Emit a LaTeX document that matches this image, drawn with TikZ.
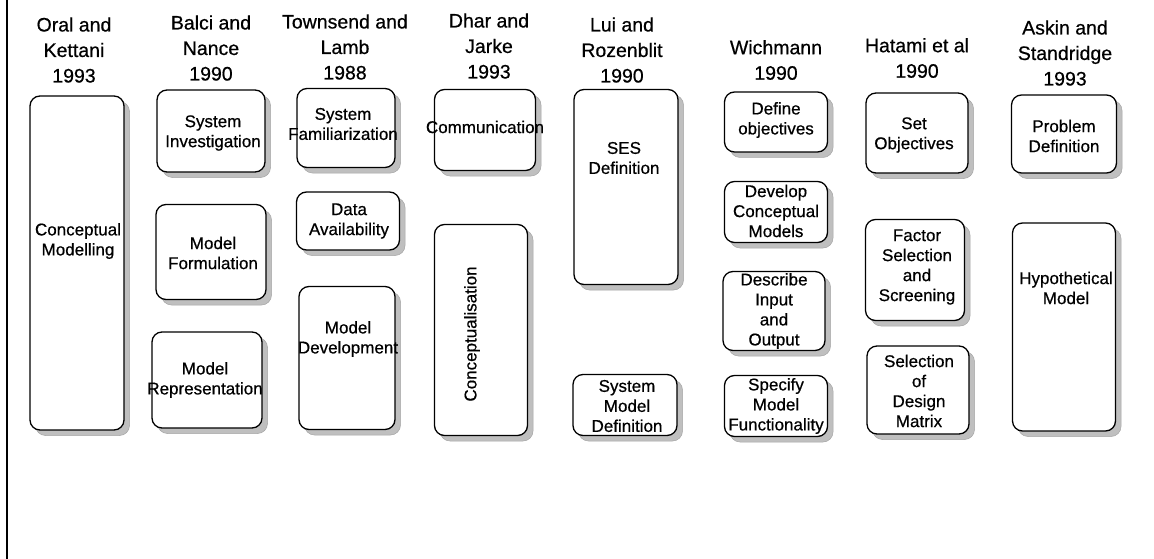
\documentclass[tikz,border=0pt]{standalone}
\usepackage{fontspec}
\setmainfont{Liberation Sans}[FakeBold=0.6]
\usepackage{tikz}
\usetikzlibrary{positioning}
\tikzstyle{stage}=[draw, fill=white, rounded corners=10pt, line width=1.3pt, inner sep=0pt, preaction={draw=gray!70, line width=0.5pt, fill=gray!50, transform canvas={xshift=5.5pt, yshift=-5.5pt}}]
\tikzstyle{txt}=[font=\fontsize{17}{20}\selectfont, align=center, inner sep=0pt]
\tikzstyle{head}=[font=\fontsize{19.5}{25.5}\selectfont, align=center, inner sep=0pt]

\begin{document}
\begin{tikzpicture}[x=1pt,y=-1pt]
\useasboundingbox (0,0) rectangle (1154,559);

\coordinate (ltop) at (7,0);
\coordinate (lbot) at (7,559);
\draw[line width=1.5pt] (ltop) -- (lbot);

% headers
\node[head] at (74,50) (h1) {Oral and\\Kettani\\1993};
\node[head] at (211,48) (h2) {Balci and\\Nance\\1990};
\node[head] at (345,47) (h3) {Townsend and\\Lamb\\1988};
\node[head] at (489,46) (h4) {Dhar and\\Jarke\\1993};
\node[head] at (622,50) (h5) {Lui and\\Rozenblit\\1990};
\node[head] at (776,60) (h6) {Wichmann\\1990};
\node[head] at (917,58) (h7) {Hatami et al\\1990};
\node[head] at (1065,53) (h8) {Askin and\\Standridge\\1993};

% Oral and Kettani
\node[stage, minimum width=94pt, minimum height=334pt] at (77,263) (cm) {};
\node[txt] at (78,241) (cmt) {Conceptual\\Modelling};

% Balci and Nance
\node[stage, minimum width=108pt, minimum height=82pt] at (211,131) (si) {};
\node[txt] at (213,133) (sit) {System\\Investigation};
\node[stage, minimum width=110pt, minimum height=95pt] at (211,252) (mf) {};
\node[txt] at (213,253) (mft) {Model\\Formulation};
\node[stage, minimum width=110pt, minimum height=96pt] at (207,380) (mr) {};
\node[txt] at (205,380) (mrt) {Model\\Representation};

% Townsend and Lamb
\node[stage, minimum width=98pt, minimum height=79pt] at (346,128) (sf) {};
\node[txt] at (343,124) (sft) {System\\Familiarization};
\node[stage, minimum width=103pt, minimum height=58pt] at (348,221) (da) {};
\node[txt] at (349,221) (dat) {Data\\Availability};
\node[stage, minimum width=96pt, minimum height=143pt] at (347,358) (md) {};
\node[txt] at (348,339) (mdt) {Model\\Development};

% Dhar and Jarke
\node[stage, minimum width=101pt, minimum height=81pt] at (485,130) (co) {};
\node[txt] at (485,127) (cot) {Communication};
\node[stage, minimum width=93pt, minimum height=211pt] at (481,330) (cs) {};
\node[txt, rotate=90] at (472,334) (cst) {Conceptualisation};

% Lui and Rozenblit
\node[stage, minimum width=104pt, minimum height=195pt] at (626,187) (ses) {};
\node[txt] at (624,158) (sest) {SES\\Definition};
\node[stage, minimum width=104pt, minimum height=61pt] at (625,405) (smd) {};
\node[txt] at (627,406) (smdt) {System\\Model\\Definition};

% Wichmann
\node[stage, minimum width=103pt, minimum height=60pt] at (776,122) (dob) {};
\node[txt] at (776,120) (dobt) {Define\\objectives};
\node[stage, minimum width=103pt, minimum height=61pt] at (776,212) (dcm) {};
\node[txt] at (776,211) (dcmt) {Develop\\Conceptual\\Models};
\node[stage, minimum width=102pt, minimum height=79pt] at (774,311) (dio) {};
\node[txt] at (774,311) (diot) {Describe\\Input\\and\\Output};
\node[stage, minimum width=103pt, minimum height=61pt] at (776,406) (smf) {};
\node[txt] at (776,406) (smft) {Specify\\Model\\Functionality};

% Hatami et al
\node[stage, minimum width=102pt, minimum height=80pt] at (917,133) (so) {};
\node[txt] at (914,135) (sot) {Set\\Objectives};
\node[stage, minimum width=99pt, minimum height=101pt] at (915,270) (fss) {};
\node[txt] at (917,267) (fsst) {Factor\\Selection\\and\\Screening};
\node[stage, minimum width=102pt, minimum height=88pt] at (918,390) (sdm) {};
\node[txt] at (919,391) (sdmt) {Selection\\of\\Design\\Matrix};

% Askin and Standridge
\node[stage, minimum width=105pt, minimum height=78pt] at (1064,134) (pd) {};
\node[txt] at (1064,136) (pdt) {Problem\\Definition};
\node[stage, minimum width=103pt, minimum height=208pt] at (1064,327) (hm) {};
\node[txt] at (1066,288) (hmt) {Hypothetical\\Model};
\end{tikzpicture}
\end{document}
